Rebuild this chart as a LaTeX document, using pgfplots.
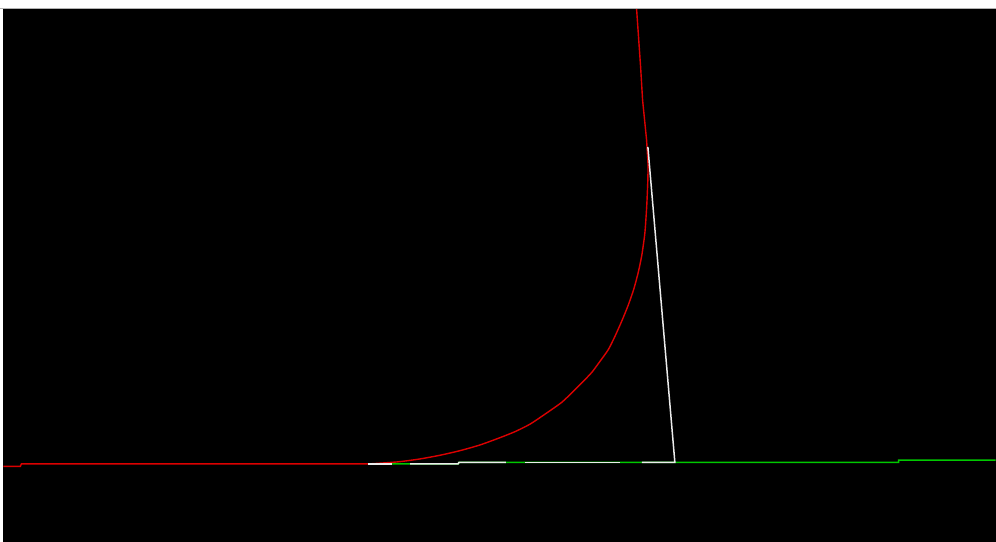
\documentclass[border=0pt]{standalone}
\usepackage{pgfplots}
\pgfplotsset{compat=1.18}
\definecolor{cred}{RGB}{220,0,0}
\definecolor{cgreen}{RGB}{0,200,0}
\definecolor{cwhite}{RGB}{235,235,235}
\begin{document}
\begin{tikzpicture}
\begin{axis}[
  at={(0,0)}, anchor=south west,
  scale only axis, width=993pt, height=533pt,
  xmin=3, xmax=996, ymin=9, ymax=542, y dir=reverse,
  axis line style={draw=none}, ticks=none,
  axis background/.style={fill=black},
  clip=true,
]
% green series
\addplot[cgreen, line width=1.6pt, mark=none] coordinates {
(368,464.3) (458,464.3) (459,462.7) (899,462.7) (899,460.5) (1000,460.5)
};
% red series: flat part
\addplot[cred, line width=1.4pt, mark=none] coordinates {
(0,466.7) (20,466.7) (21,464.3) (368,464.3)
};
% red series: rising part
\addplot[cred, line width=1.4pt, mark=none, smooth, tension=0.4] coordinates {
(368,464.3) (385,463.2) (400,462) (420,459.3) (440,455.6) (460,451)
(480,445.3) (500,438) (515,432) (530,424.5) (545,414.5) (561.7,402.7)
(573.3,391.7) (583.3,381.7) (592,372.5) (600,361.7) (608.3,350) (615,336.7)
(621.7,321.7) (628.3,305.5) (634,289) (638.5,272) (642,255) (645,233)
(646.8,207) (647.9,182) (648.2,165)
};
\addplot[cred, line width=1.4pt, mark=none] coordinates {
(648.2,165) (646.7,140) (642.7,100) (640.7,66.7) (636.7,9) (636,-5)
};
% white series
\addplot[cwhite, line width=1.5pt, mark=none] coordinates {
(368,464.3) (392,464.3)
};
\addplot[cwhite, line width=1.5pt, mark=none] coordinates {
(410,464.3) (458,464.3) (459,462.7) (506,462.7)
};
\addplot[cwhite, line width=1.5pt, mark=none] coordinates {
(525,462.7) (620,462.7)
};
\addplot[cwhite, line width=1.5pt, mark=none] coordinates {
(642,462.7) (675,462.7) (648,147)
};
\end{axis}
\draw[gray!60, line width=0.8pt] (-3pt,533.4pt) -- (993pt,533.4pt);
\path (-3pt,0pt) rectangle (993pt,542pt);
\end{tikzpicture}
\end{document}
